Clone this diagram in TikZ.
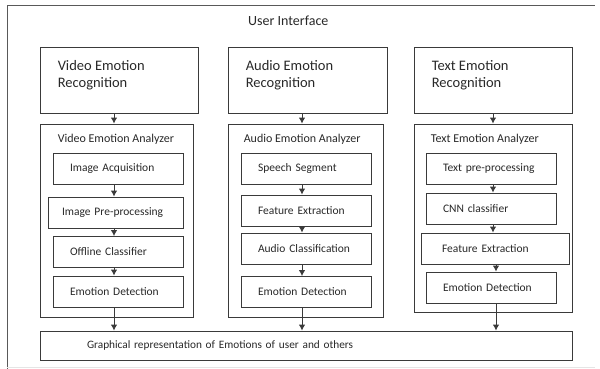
\documentclass[tikz,border=0pt]{standalone}
\usepackage{fontspec}
\setmainfont{Carlito}
\usetikzlibrary{arrows.meta}

\definecolor{linegray}{RGB}{58,58,58}
\definecolor{inkgray}{RGB}{40,40,40}

\tikzset{
  box/.style={draw=linegray, line width=0.9pt, inner ysep=0pt, text=inkgray},
  topbox/.style={box, minimum width=158pt, minimum height=66pt},
  panel/.style={box, minimum width=#1},
  stagebox/.style={box, minimum height=31pt, inner xsep=17pt, text width=#1,
    align=left, font=\fontsize{11.5}{13}\selectfont},
  toptitle/.style={inner sep=0pt, align=left, text=inkgray,
    font=\fontsize{14.5}{17}\selectfont},
  paneltitle/.style={inner sep=0pt, text=inkgray, font=\fontsize{12}{14}\selectfont},
  flow/.style={draw=linegray, line width=0.9pt, -{Latex[length=6pt,width=6.5pt]}}
}

\begin{document}
\begin{tikzpicture}[x=1pt,y=-1pt]
  \useasboundingbox (0,0) rectangle (600,369);

  % frame of the user interface
  \draw[gray!70!black, line width=0.9pt] (7,369) -- (7,5) -- (595,5);
  \draw[gray!20] (7,367) -- (595,367);
  \node[inner sep=0pt, anchor=base west, text=inkgray, font=\fontsize{14}{17}\selectfont]
    (ui) at (248,26) {User Interface};

  % axes of the three columns
  \coordinate (vcol) at (114,0);
  \coordinate (acol) at (302,0);
  \coordinate (tcol) at (493,0);
  \coordinate (tcolb) at (496,0);

  % video column
  \node[topbox] (vid) at (119,80) {};
  \node[toptitle, anchor=north west] (vidt) at ([shift={(18,14)}]vid.north west) {Video Emotion\\Recognition};
  \node[panel=153pt, minimum height=193pt] (van) at (116.5,220.5) {};
  \node[paneltitle, anchor=base west] (vant) at ([shift={(18,19)}]van.north west) {Video Emotion Analyzer};
  \node[stagebox=96pt] (via) at (118,168.5) {Image Acquisition};
  \node[stagebox=107pt, inner xsep=14pt] (vip) at (115.5,212.5) {Image Pre-processing};
  \node[stagebox=96pt] (voc) at (118,252) {Offline Classifier};
  \node[stagebox=96pt] (ved) at (118,291.5) {Emotion Detection};

  % audio column
  \node[topbox, minimum width=159pt] (aud) at (307.5,80) {};
  \node[toptitle, anchor=north west] (audt) at ([shift={(18,14)}]aud.north west) {Audio Emotion\\Recognition};
  \node[panel=155pt, minimum height=193pt] (aan) at (305.5,220.5) {};
  \node[paneltitle, anchor=base west] (aant) at ([shift={(16,19)}]aan.north west) {Audio Emotion Analyzer};
  \node[stagebox=96pt] (ass) at (306,168.5) {Speech Segment};
  \node[stagebox=96pt] (afe) at (306,210.5) {Feature Extraction};
  \node[stagebox=96pt] (acl) at (306,248.5) {Audio Classification};
  \node[stagebox=96pt] (aed) at (306,292) {Emotion Detection};

  % text column
  \node[topbox] (txt) at (493,80) {};
  \node[toptitle, anchor=north west] (txtt) at ([shift={(18,14)}]txt.north west) {Text Emotion\\Recognition};
  \node[panel=158pt, minimum height=188pt] (tan) at (493,218) {};
  \node[paneltitle, anchor=base west] (tant) at ([shift={(17,19)}]tan.north west) {Text Emotion Analyzer};
  \node[stagebox=96pt] (ttp) at (491,168.5) {Text pre-processing};
  \node[stagebox=96pt] (tcn) at (491,208.5) {CNN classifier};
  \node[stagebox=106pt, inner xsep=21pt] (tfe) at (495,248.5) {Feature Extraction};
  \node[stagebox=96pt] (ted) at (491,287.5) {Emotion Detection};

  % common output
  \node[box, minimum width=532pt, minimum height=29pt, inner xsep=47pt, text width=438pt,
    align=left, font=\fontsize{11.3}{13}\selectfont] (gr) at (306,345.5)
    {Graphical representation of Emotions of user and others};

  % flows
  \draw[flow] (vid.south -| vcol) -- (van.north -| vcol);
  \draw[flow] (via.south -| vcol) -- (vip.north -| vcol);
  \draw[flow] (vip.south -| vcol) -- (voc.north -| vcol);
  \draw[flow] (voc.south -| vcol) -- (ved.north -| vcol);
  \draw[flow] (ved.south -| vcol) -- (gr.north -| vcol);

  \draw[flow] (aud.south -| acol) -- (aan.north -| acol);
  \draw[flow] (ass.south -| acol) -- (afe.north -| acol);
  \draw[flow] (afe.south -| acol) -- (acl.north -| acol);
  \draw[flow] (acl.south -| acol) -- (aed.north -| acol);
  \draw[flow] (aed.south -| acol) -- (gr.north -| acol);

  \draw[flow] (txt.south -| tcol) -- (tan.north -| tcol);
  \draw[flow] (ttp.south -| tcol) -- (tcn.north -| tcol);
  \draw[flow] (tcn.south -| tcol) -- (tfe.north -| tcol);
  \draw[flow] (tfe.south -| tcolb) -- (ted.north -| tcolb);
  \draw[flow] (ted.south -| tcolb) -- (gr.north -| tcolb);
\end{tikzpicture}
\end{document}
